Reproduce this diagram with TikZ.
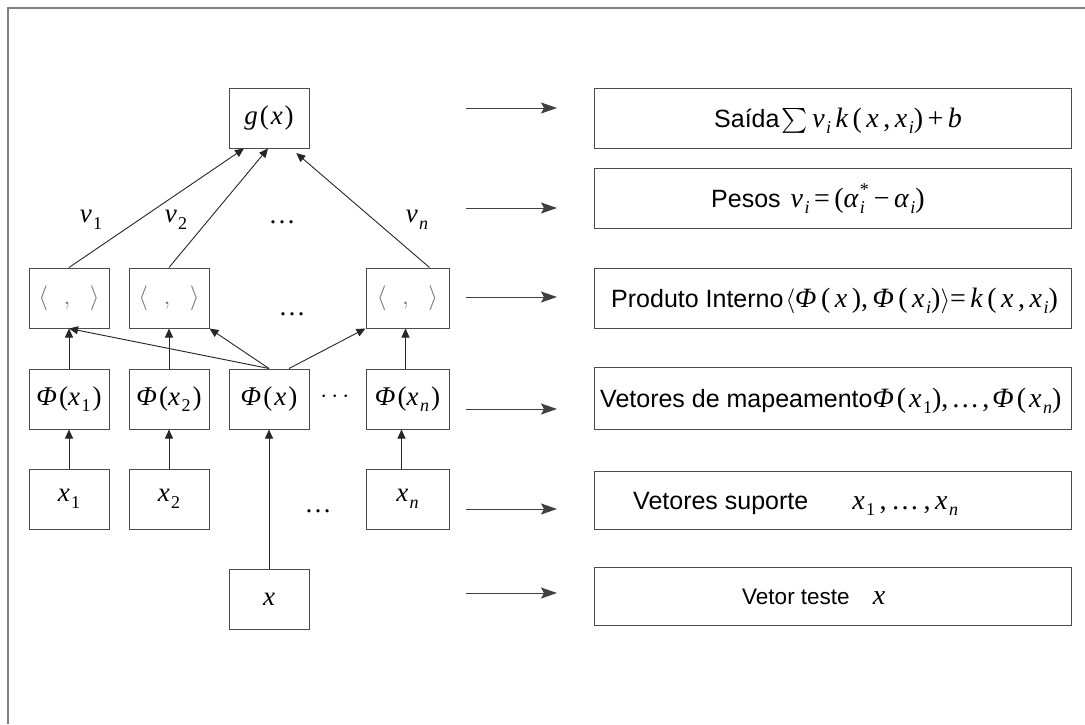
\documentclass[tikz,border=0pt]{standalone}
\usepackage{amsmath}
\usepackage{fontspec}
\setmainfont{Liberation Sans}
\newfontfamily\tnr{Liberation Serif}
\usetikzlibrary{arrows.meta,calc}
\newcommand\up[1]{{\upshape #1}}
\newcommand\kk{\hspace{4.5pt}}
\newcommand\kt{\hspace{3pt}}
\newcommand\ks{\hspace{2pt}}
\newcommand\sbs[1]{\hspace{1.5pt}\raisebox{-0.24em}{\fontsize{18}{18}\selectfont #1}}
\newcommand\stk[2]{\hspace{1.5pt}\makebox[0pt][l]{\raisebox{0.42em}{\fontsize{18}{18}\selectfont #1}}\raisebox{-0.24em}{\fontsize{18}{18}\selectfont #2}}
\newcommand\mt[1]{{\tnr\itshape #1}}
\newcommand\rmt[1]{{\fontsize{28}{30}\selectfont\tnr\itshape #1}}
\begin{document}
\begin{tikzpicture}[x=1pt,y=-1pt,
  box/.style={draw=black!70, line width=1pt, minimum width=80pt, minimum height=60pt, inner sep=0pt, font=\fontsize{27}{30}\selectfont},
  rbox/.style={draw=black!70, line width=1pt, minimum width=477pt, inner sep=0pt},
  txt/.style={anchor=base west, inner sep=0pt, font=\fontsize{25}{30}\selectfont},
  lbl/.style={inner sep=0pt, font=\fontsize{27}{30}\selectfont},
  arr/.style={draw=black!85, line width=0.9pt, -{Triangle[length=9pt,width=8pt]}},
  rarr/.style={draw=black!75, line width=1pt, -{Stealth[length=16pt,width=11pt,inset=3pt]}},
]
\useasboundingbox (0,0) rectangle (1085,724);
\draw[black!50, line width=2pt] (8,724) -- (8,8) -- (1085,8);

% left diagram
\node[box] (g) at (269,118) {\mt{g\ks\up{(}\ks x\ks\up{)}}};
\node[box, text=black!55] (ip1) at (69,298) {\fontsize{28}{30}\selectfont$\langle\hspace{0.55em},\hspace{0.55em}\rangle$};
\node[box, text=black!55] (ip2) at (169,298) {\fontsize{28}{30}\selectfont$\langle\hspace{0.55em},\hspace{0.55em}\rangle$};
\node[box, text=black!55, minimum width=83pt] (ipn) at (407.5,298) {\fontsize{28}{30}\selectfont$\langle\hspace{0.55em},\hspace{0.55em}\rangle$};
\node[box] (p1) at (69,399) {\mt{Φ\ks\up{(}x\sbs{\up{1}}\ks\up{)}}};
\node[box] (p2) at (169,399) {\mt{Φ\ks\up{(}x\sbs{\up{2}}\ks\up{)}}};
\node[box] (px) at (269,399) {\mt{Φ\ks\up{(}\ks x\ks\up{)}}};
\node[box, minimum width=83pt] (pn) at (407.5,399) {\mt{Φ\ks\up{(}x\sbs{n}\ks\up{)}}};
\node[box] (x1) at (69,499) {\mt{x\sbs{\up{1}}}};
\node[box] (x2) at (169,499) {\mt{x\sbs{\up{2}}}};
\node[box, minimum width=83pt] (xn) at (407.5,499) {\mt{x\sbs{n}}};
\node[box] (x) at (269,599) {\mt{x}};

\node[lbl] (v1) at (91,220) {\mt{v\sbs{\up{1}}}};
\node[lbl] (v2) at (176,220) {\mt{v\sbs{\up{2}}}};
\node[lbl] (d1) at (282,222) {\tnr …};
\node[lbl] (vn) at (417,220) {\mt{v\sbs{n}}};
\node[lbl] (d2) at (292,314) {\tnr …};
\node[lbl] (d3) at (337,397) {$\cdots$};
\node[lbl] (d4) at (318,511) {\tnr …};

\draw[arr] (ip1.north) -- ([xshift=-25pt]g.south);
\draw[arr] (ip2.north) -- ([xshift=-1pt]g.south);
\draw[arr, shorten >=7pt] ([xshift=22pt]ipn.north) -- ([xshift=22pt]g.south);
\draw[arr] (p1.north) -- (ip1.south);
\draw[arr] (p2.north) -- (ip2.south);
\draw[arr] ([xshift=-2pt]pn.north) -- ([xshift=-2pt]ipn.south);
\draw[arr] (px.north) -- (ip1.south);
\draw[arr] (px.north) -- (ip2.south east);
\draw[arr] ([xshift=20pt]px.north) -- (ipn.south west);
\draw[arr] (x1.north) -- (p1.south);
\draw[arr] (x2.north) -- (p2.south);
\draw[arr] ([xshift=-6pt]xn.north) -- ([xshift=-6pt]pn.south);
\draw[arr] (x.north) -- (px.south);

% right column
\node[rbox, minimum height=60pt] (r1) at (832.5,118) {};
\node[rbox, minimum height=60pt] (r2) at (832.5,198) {};
\node[rbox, minimum height=60pt] (r3) at (832.5,298) {};
\node[rbox, minimum height=62pt] (r4) at (832.5,398) {};
\node[rbox, minimum height=58pt] (r5) at (832.5,500) {};
\node[rbox, minimum height=58pt] (r6) at (832.5,596) {};

\node[txt] (t1) at (714,127) {Saída\hspace{2pt}{\fontsize{28}{30}\selectfont$\textstyle\sum$}\kk\rmt{v\sbs{i}\kk k\kk\up{(}\kk x\kk\up{,}\kk x\sbs{i}\up{)}\kk\up{+}\kk b}};
\node[txt] (t2) at (711,207) {Pesos\hspace{10pt}\rmt{v\sbs{i}\kk\up{=}\kk\up{(}α\stk{\up{*}}{i}\kk\kk\up{−}\kk α\sbs{i}\up{)}}};
\node[txt] (t3) at (611,307) {Produto Interno\hspace{2pt}{\fontsize{28}{30}\selectfont$\langle$}\rmt{Φ\kk\up{(}\kk x\kk\up{)}\up{,}\kk Φ\kk\up{(}\kk x\sbs{i}\up{)}}{\fontsize{28}{30}\selectfont$\rangle$}\rmt{\up{=}\kk k\kk\up{(}\kk x\kk\up{,}\kk x\sbs{i}\up{)}}};
\node[txt] (t4) at (600,407) {Vetores de mapeamento\rmt{Φ\kt\up{(}\kt x\sbs{\up{1}}\up{)}\up{,}\kt\up{…}\kt\up{,}\kt Φ\kt\up{(}\kt x\sbs{n}\up{)}}};
\node[txt] (t5) at (633,509) {Vetores suporte\hspace{44pt}\rmt{x\sbs{\up{1}}\kk\up{,}\kk\up{…}\kk\up{,}\kk x\sbs{n}}};
\node[txt, font=\fontsize{22.5}{27}\selectfont] (t6) at (742,604) {Vetor teste\hspace{23pt}\rmt{x}};

\coordinate (a1s) at (466,108); \coordinate (a1e) at (557,108);
\coordinate (a2s) at (466,208); \coordinate (a2e) at (557,208);
\coordinate (a3s) at (466,297); \coordinate (a3e) at (557,297);
\coordinate (a4s) at (466,409); \coordinate (a4e) at (557,409);
\coordinate (a5s) at (466,509); \coordinate (a5e) at (557,509);
\coordinate (a6s) at (466,593); \coordinate (a6e) at (557,593);
\foreach \i in {1,...,6} {\draw[rarr] (a\i s) -- (a\i e);}
\end{tikzpicture}
\end{document}
